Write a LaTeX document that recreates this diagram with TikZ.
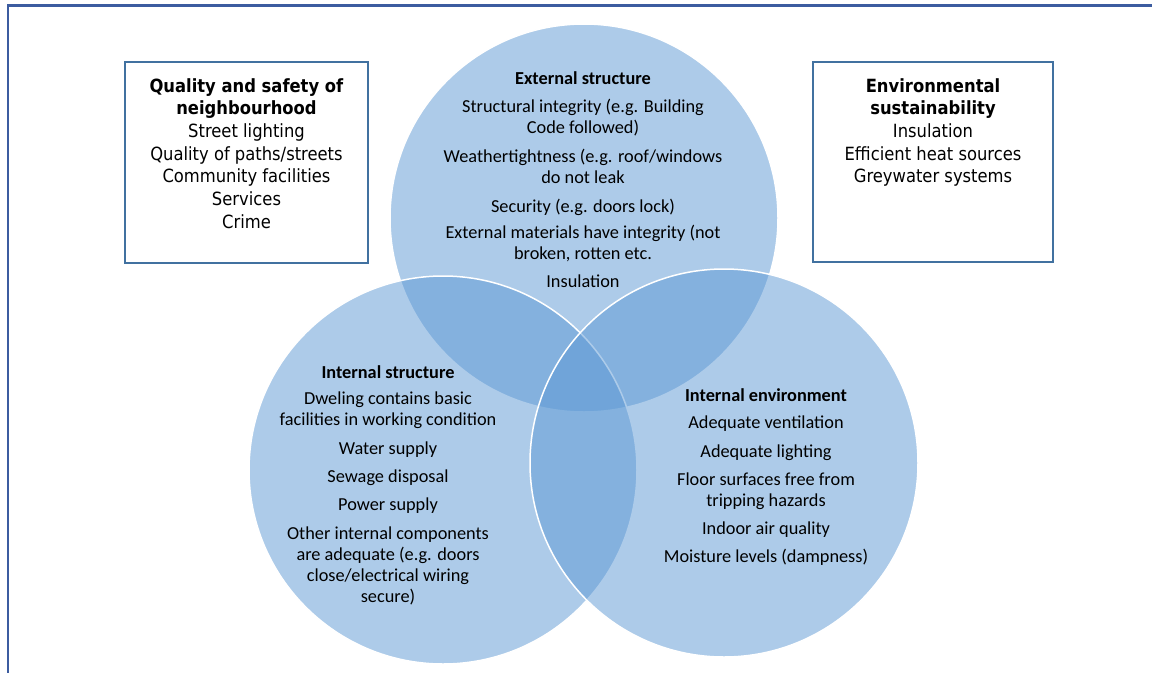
\documentclass[tikz,border=0pt]{standalone}
\usepackage{fontspec}
\setmainfont{Carlito}
\newfontfamily\boxfont{DejaVu Sans Condensed}
\definecolor{venn}{RGB}{93,153,213}
\definecolor{boxblue}{RGB}{65,113,160}
\definecolor{framblue}{RGB}{60,92,160}
\begin{document}
\begin{tikzpicture}[x=1pt,y=-1pt,
  venncircle/.style={circle, inner sep=0pt, minimum size=388pt,
    fill=venn, fill opacity=0.5, draw=white, draw opacity=1, line width=1.5pt},
  infobox/.style={draw=boxblue, line width=2.6pt, fill=white, inner sep=0pt},
  vtext/.style={align=center, inner sep=0pt, anchor=north,
    font=\fontsize{18.3}{20.8}\selectfont},
  btext/.style={align=center, inner sep=0pt, anchor=north,
    font=\boxfont\fontsize{18.2}{22.7}\selectfont}]
\useasboundingbox (0,0) rectangle (1152,673);
\fill[white] (0,0) rectangle (1152,673);
% page frame (top and left edges)
\draw[framblue, line width=2.5pt] (1152,5.5) -- (8,5.5) -- (8,673);

% the three overlapping circles
\node[venncircle] (ext) at (584,218) {};
\node[venncircle] (intS) at (443,470) {};
\node[venncircle] (intE) at (724,463) {};

% side boxes
\node[infobox, minimum width=243pt, minimum height=201pt] (nbh) at (246.5,162.5) {};
\node[infobox, minimum width=240pt, minimum height=200pt] (env) at (933,162) {};

% texts
\node[btext] (nbhtxt) at (246.5,78) {\textbf{Quality and safety of}\\
  \textbf{neighbourhood}\\ Street lighting\\ Quality of paths/streets\\
  Community facilities\\ Services\\ Crime};
\node[btext] (envtxt) at (933,78) {\textbf{Environmental}\\
  \textbf{sustainability}\\ Insulation\\ Efficient heat sources\\
  Greywater systems};

\node[vtext] (exttxt) at (583,71) {{\bfseries External structure}\\[8pt]
  Structural integrity (e.g. Building\\ Code followed)\\[8pt]
  Weathertightness (e.g. roof/windows\\ do not leak\\[8pt]
  Security (e.g. doors lock)\\[6pt]
  External materials have integrity (not\\ broken, rotten etc.\\[7pt]
  Insulation};
\node[vtext] (intStxt) at (388,365) {{\bfseries Internal structure}\\[6pt]
  Dweling contains basic\\ facilities in working condition\\[8pt]
  Water supply\\[7pt]
  Sewage disposal\\[7pt]
  Power supply\\[9pt]
  Other internal components\\ are adequate (e.g. doors\\
  close/electrical wiring\\ secure)};
\node[vtext] (intEtxt) at (766,388) {{\bfseries Internal environment}\\[7pt]
  Adequate ventilation\\[8pt]
  Adequate lighting\\[7pt]
  Floor surfaces free from\\ tripping hazards\\[7pt]
  Indoor air quality\\[8pt]
  Moisture levels (dampness)};
\end{tikzpicture}
\end{document}
